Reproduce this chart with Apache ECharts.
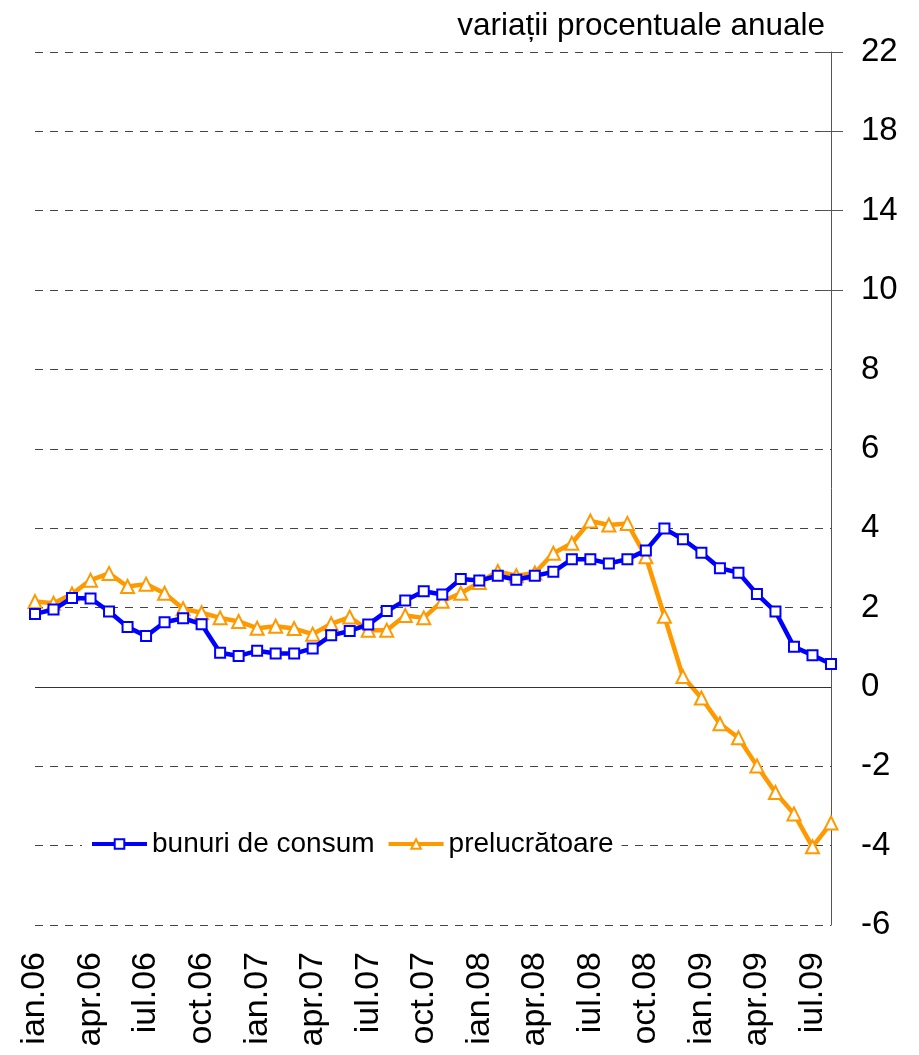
<!DOCTYPE html>
<html>
<head>
<meta charset="utf-8">
<script src="https://cdn.jsdelivr.net/npm/echarts@6/dist/echarts.min.js"></script>
<style>
  html, body { margin: 0; padding: 0; background: #fff; }
  #chart { width: 919px; height: 1055px; }
</style>
</head>
<body>
<div id="chart"></div>
<script>
// luni, ian.06 - aug.09
const months = [
  'ian.06', 'feb.06', 'mar.06', 'apr.06', 'mai.06', 'iun.06', 'iul.06', 'aug.06', 'sep.06', 'oct.06', 'noi.06', 'dec.06',
  'ian.07', 'feb.07', 'mar.07', 'apr.07', 'mai.07', 'iun.07', 'iul.07', 'aug.07', 'sep.07', 'oct.07', 'noi.07', 'dec.07',
  'ian.08', 'feb.08', 'mar.08', 'apr.08', 'mai.08', 'iun.08', 'iul.08', 'aug.08', 'sep.08', 'oct.08', 'noi.08', 'dec.08',
  'ian.09', 'feb.09', 'mar.09', 'apr.09', 'mai.09', 'iun.09', 'iul.09', 'aug.09'
];

const bunuriDeConsum = [
  1.84, 1.95, 2.24, 2.23, 1.90, 1.51, 1.28, 1.63, 1.73, 1.58,
  0.86, 0.78, 0.91, 0.84, 0.84, 0.97, 1.30, 1.41, 1.57, 1.91,
  2.18, 2.41, 2.33, 2.72, 2.68, 2.80, 2.70, 2.80, 2.90, 3.22,
  3.22, 3.11, 3.22, 3.44, 3.99, 3.72, 3.38, 2.99, 2.88, 2.34,
  1.90, 1.01, 0.80, 0.58
];

const prelucratoare = [
  2.15, 2.11, 2.34, 2.69, 2.86, 2.53, 2.59, 2.36, 1.97, 1.87,
  1.74, 1.65, 1.48, 1.53, 1.47, 1.33, 1.59, 1.76, 1.43, 1.43,
  1.80, 1.74, 2.16, 2.36, 2.63, 2.91, 2.80, 2.87, 3.37, 3.62,
  4.18, 4.08, 4.12, 3.28, 1.78, 0.26, -0.28, -0.93, -1.28, -1.99,
  -2.66, -3.20, -4.03, -3.43
];

// etichetele axei verticale, de jos in sus (asa apar in original)
const yTickLabels = ['-6', '-4', '-2', '0', '2', '4', '6', '8', '10', '14', '18', '22'];
const yMin = -6;
const yMax = 16;
const yStep = 2;
// doar sus apar liniutele care taie axa
const crossTicks = [10, 12, 14, 16];

const font = "'Liberation Sans', Arial, sans-serif";
const blue = '#0000ff';
const orange = '#ff9900';

// axa ajutatoare doar pentru liniute (una in afara, una in interior)
function tickAxis(inside, length) {
    return {
        type: 'value',
        position: 'right',
        min: yMin,
        max: yMax,
        interval: yStep,
        axisLine: { show: false },
        axisTick: { show: true, inside: inside, length: length, customValues: crossTicks, lineStyle: { color: '#555' } },
        axisLabel: { show: false },
        splitLine: { show: false }
    };
}

const chart = echarts.init(document.getElementById('chart'));

chart.setOption({
    animation: false,
    backgroundColor: '#fff',
    title: {
        text: 'variații procentuale anuale',
        right: 89,
        top: 5,
        textStyle: {
            fontFamily: font,
            fontWeight: 'normal',
            fontSize: 31.5,
            color: '#000'
        }
    },
    legend: {
        left: 82,
        top: 828,
        backgroundColor: '#fff',
        padding: [2, 8, 2, 8],
        itemWidth: 55,
        itemHeight: 12,
        itemGap: 12,
        textStyle: {
            fontFamily: font,
            fontSize: 28,
            color: '#000'
        },
        data: [
            { name: 'bunuri de consum', lineStyle: { width: 4 } },
            { name: 'prelucrătoare', lineStyle: { width: 4 } }
        ]
    },
    grid: {
        left: 35,
        right: 88,
        top: 52,
        bottom: 130
    },
    xAxis: {
        type: 'category',
        data: months,
        boundaryGap: false,
        axisLine: { show: false, onZero: false },
        axisTick: { show: false },
        axisLabel: {
            interval: 2,
            rotate: 90,
            margin: 27,
            fontFamily: font,
            fontSize: 34,
            color: '#000'
        },
        splitLine: { show: false }
    },
    yAxis: [
        {
            type: 'value',
            position: 'right',
            min: yMin,
            max: yMax,
            interval: yStep,
            axisLine: { show: true, lineStyle: { color: '#555', width: 1 } },
            axisTick: { show: false },
            axisLabel: {
                margin: 30,
                fontFamily: font,
                fontSize: 33,
                color: '#000',
                formatter: v => yTickLabels[Math.round((v - yMin) / yStep)]
            },
            splitLine: {
                show: true,
                lineStyle: { color: '#444', width: 1, type: [8, 7] }
            }
        },
        tickAxis(false, 12),
        tickAxis(true, 11)
    ],
    series: [
        {
            name: 'bunuri de consum',
            type: 'line',
            data: bunuriDeConsum,
            symbol: 'rect',
            symbolSize: 10,
            showAllSymbol: true,
            z: 3,
            lineStyle: { color: blue, width: 4.5 },
            itemStyle: { color: '#fff', borderColor: blue, borderWidth: 2 },
            markLine: {
                silent: true,
                symbol: 'none',
                label: { show: false },
                lineStyle: { color: '#333', width: 1.2, type: 'solid' },
                data: [{ yAxis: 0 }]
            }
        },
        {
            name: 'prelucrătoare',
            type: 'line',
            data: prelucratoare,
            symbol: 'triangle',
            symbolSize: 13,
            showAllSymbol: true,
            z: 2,
            lineStyle: { color: orange, width: 4.5 },
            itemStyle: { color: '#fff', borderColor: orange, borderWidth: 2 }
        }
    ]
});
</script>
</body>
</html>
